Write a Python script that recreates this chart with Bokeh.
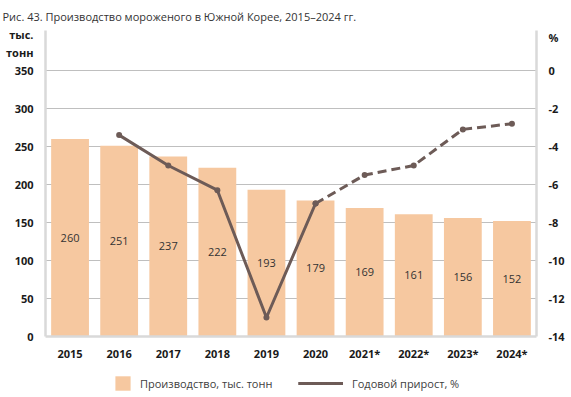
from bokeh.plotting import figure
from bokeh.models import (ColumnDataSource, Range1d, LinearAxis, Legend,
                          LegendItem, FactorRange, FixedTicker)
from bokeh.layouts import column
from bokeh.embed import file_html
from bokeh.resources import INLINE

years = ["2015", "2016", "2017", "2018", "2019", "2020", "2021*", "2022*", "2023*", "2024*"]
production = [260, 251, 237, 222, 193, 179, 169, 161, 156, 152]
growth_years_solid = ["2016", "2017", "2018", "2019", "2020"]
growth_solid = [-3.4, -5.0, -6.3, -13.0, -7.0]
growth_years_dash = ["2020", "2021*", "2022*", "2023*", "2024*"]
growth_dash = [-7.0, -5.5, -5.0, -3.1, -2.8]
left_ticks = [0, 50, 100, 150, 200, 250, 300, 350]
right_ticks = [-14, -12, -10, -8, -6, -4, -2, 0]

title_text = "Рис. 43. Производство мороженого в Южной Корее, 2015–2024 гг."
left_unit = "тыс.\nтонн"
right_unit = "%"
bar_label = "Производство, тыс. тонн"
line_label = "Годовой прирост, %"

BAR = "#F6C8A0"
LINE = "#6D5B57"
GRID = "#BFBFBF"
AXIS = "#D9D9D9"
TXT = "#1A1A1A"
FONT = "Open Sans"

LEFT_MAX = 350 + 40 / 0.76
RIGHT_MAX = 40 / 19.0
LEFT_UNIT_POS = 385
RIGHT_UNIT_POS = 1.75

p = figure(frame_width=491, frame_height=306,
           x_range=FactorRange(*years, range_padding=0),
           y_range=Range1d(0, LEFT_MAX), output_backend="svg", toolbar_location=None,
           min_border_left=45, min_border_right=27, min_border_top=30, min_border_bottom=30,
           title=title_text)
p.outline_line_color = None
p.extra_y_ranges = {"pct": Range1d(-14, RIGHT_MAX)}

p.title.text_font = FONT
p.title.text_font_size = "11px"
p.title.text_font_style = "normal"
p.title.text_color = "#333333"
p.title.align = "left"
p.title.offset = -43
p.title.standoff = 13

src = ColumnDataSource(dict(x=years, y=production, half=[v / 2 for v in production],
                            lab=[str(v) for v in production]))
p.vbar(x="x", top="y", width=0.77, source=src, fill_color=BAR, line_color=None)
p.text(x="x", y="half", text="lab", source=src, text_align="center", text_baseline="middle",
       text_font_size="11px", text_color="#333333", text_font={"value": FONT})

s1 = ColumnDataSource(dict(x=growth_years_solid, y=growth_solid))
s2 = ColumnDataSource(dict(x=growth_years_dash, y=growth_dash))
p.line(x="x", y="y", source=s1, y_range_name="pct", line_color=LINE, line_width=3)
p.scatter(x="x", y="y", source=s1, y_range_name="pct", size=6, fill_color=LINE, line_color=None)
p.line(x="x", y="y", source=s2, y_range_name="pct", line_color=LINE, line_width=3,
       line_dash="9 5")
p.scatter(x="x", y="y", source=s2, y_range_name="pct", size=6, fill_color=LINE, line_color=None)

def style_axis(ax):
    ax.axis_line_color = AXIS
    ax.axis_line_width = 2.5
    ax.major_tick_line_color = None
    ax.minor_tick_line_color = None
    ax.major_tick_out = 0
    ax.major_tick_in = 0
    ax.minor_tick_out = 0
    ax.major_label_text_font = FONT
    ax.major_label_text_font_style = "bold"
    ax.major_label_text_font_size = "11px"
    ax.major_label_text_color = TXT

lax = p.yaxis[0]
lax.ticker = FixedTicker(ticks=left_ticks + [LEFT_UNIT_POS])
lax.major_label_overrides = {LEFT_UNIT_POS: left_unit}
style_axis(lax)
lax.major_label_standoff = 12
style_axis(p.xaxis[0])
p.xaxis[0].major_label_standoff = 9

rax = LinearAxis(y_range_name="pct", ticker=FixedTicker(ticks=right_ticks + [RIGHT_UNIT_POS]))
style_axis(rax)
rax.major_label_standoff = 12
ov = {t: str(t) for t in right_ticks}
ov[RIGHT_UNIT_POS] = right_unit
rax.major_label_overrides = ov
p.add_layout(rax, "right")

p.xgrid.grid_line_color = None
p.ygrid.ticker = FixedTicker(ticks=left_ticks)
p.ygrid.grid_line_color = GRID
p.ygrid.grid_line_width = 1

# footer with the legend (legend swatches only; the NaN rows draw nothing)
f = figure(width=563, height=31, x_range=Range1d(0, 563), y_range=Range1d(0, 31),
           output_backend="svg", toolbar_location=None, min_border=0,
           x_axis_location=None, y_axis_location=None)
f.grid.grid_line_color = None
f.outline_line_color = None
nan = float("nan")
lb = f.vbar(x=[nan], top=[nan], width=1, fill_color=BAR, line_color=None)
ls = f.line(x=[nan, nan], y=[nan, nan], line_color=LINE, line_width=3)
ld = f.line(x=[nan, nan], y=[nan, nan], line_color=LINE, line_width=3, line_dash="9 5")

leg1 = Legend(items=[LegendItem(label=bar_label, renderers=[lb])],
              orientation="horizontal", location=(68, 5),
              label_text_font=FONT, label_text_font_size="11px", label_text_color="#404040",
              glyph_width=19, glyph_height=18, label_standoff=8, border_line_color=None,
              background_fill_alpha=0, padding=2, margin=0)
leg2 = Legend(items=[LegendItem(label=line_label, renderers=[ls, ld])],
              orientation="horizontal", location=(253, 5),
              label_text_font=FONT, label_text_font_size="11px", label_text_color="#404040",
              glyph_width=45, glyph_height=18, label_standoff=9, border_line_color=None,
              background_fill_alpha=0, padding=2, margin=0)
f.add_layout(leg1)
f.add_layout(leg2)

layout = column(p, f, spacing=0)
open("out.html", "w").write(file_html(layout, INLINE))
